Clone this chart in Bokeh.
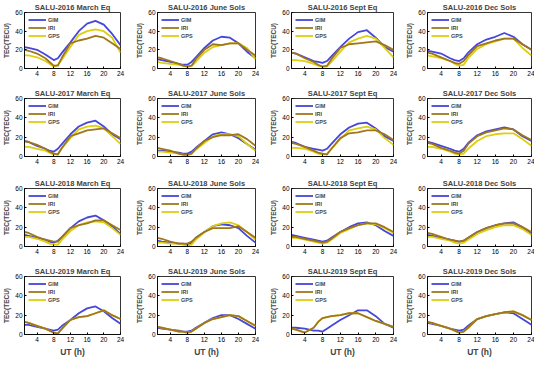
from bokeh.plotting import figure
from bokeh.layouts import gridplot
from bokeh.models import Range1d, FixedTicker, Legend, LegendItem
from bokeh.embed import file_html
from bokeh.resources import INLINE

HOURS = [1, 2, 4, 6, 7, 8, 9, 10, 12, 14, 16, 18, 20, 22, 24]
X_TICKS = [4, 8, 12, 16, 20, 24]
Y_TICKS = [0, 20, 40, 60]
SERIES = ["GIM", "IRI", "GPS"]

# 2016
gim_2016_march = [23, 22, 20, 15, 12, 9, 11, 17, 28, 40, 48, 51, 47, 37, 25]
iri_2016_march = [20, 19, 16, 11, 7, 3, 3, 12, 27, 30, 32, 35, 33, 27, 21]
gps_2016_march = [14, 14, 12, 8, 5, 2, 4, 10, 23, 36, 40, 42, 40, 33, 17]
gim_2016_june = [10, 9, 7, 5, 4, 4, 7, 12, 22, 30, 34, 33, 27, 18, 11]
iri_2016_june = [12, 11, 8, 5, 3, 2, 3, 10, 20, 26, 25, 27, 27, 20, 14]
gps_2016_june = [7, 6, 5, 4, 3, 2, 3, 7, 17, 23, 25, 27, 27, 22, 10]
gim_2016_sept = [17, 16, 12, 8, 7, 6, 8, 13, 23, 32, 39, 41, 33, 23, 18]
iri_2016_sept = [17, 16, 11, 7, 4, 2, 3, 10, 22, 26, 27, 28, 29, 25, 20]
gps_2016_sept = [9, 9, 8, 5, 3, 2, 2, 7, 18, 28, 32, 35, 32, 22, 12]
gim_2016_dec = [19, 18, 16, 11, 9, 8, 11, 17, 26, 31, 34, 38, 34, 26, 20]
iri_2016_dec = [17, 16, 12, 8, 6, 5, 8, 14, 24, 27, 30, 32, 32, 26, 20]
gps_2016_dec = [14, 13, 11, 8, 5, 3, 4, 11, 21, 26, 29, 32, 32, 22, 14]
# 2017
gim_2017_march = [16, 15, 11, 8, 6, 5, 8, 13, 23, 31, 35, 37, 31, 23, 18]
iri_2017_march = [16, 15, 12, 8, 5, 3, 2, 9, 21, 24, 27, 28, 29, 24, 19]
gps_2017_march = [10, 10, 8, 6, 4, 2, 3, 9, 19, 28, 31, 32, 29, 21, 13]
gim_2017_june = [6, 6, 5, 4, 3, 3, 5, 9, 16, 23, 25, 23, 19, 13, 7]
iri_2017_june = [9, 8, 6, 3, 2, 2, 3, 8, 16, 20, 22, 22, 23, 18, 11]
gps_2017_june = [5, 5, 4, 3, 2, 1, 3, 7, 14, 21, 23, 23, 21, 13, 6]
gim_2017_sept = [15, 14, 10, 8, 7, 6, 8, 13, 23, 30, 34, 35, 29, 21, 16]
iri_2017_sept = [14, 13, 10, 6, 4, 3, 2, 8, 19, 24, 25, 27, 27, 23, 17]
gps_2017_sept = [9, 9, 8, 5, 3, 2, 3, 8, 18, 27, 29, 31, 28, 19, 12]
gim_2017_dec = [15, 14, 11, 8, 6, 5, 8, 14, 22, 26, 28, 30, 28, 21, 16]
iri_2017_dec = [14, 13, 9, 6, 4, 3, 6, 13, 21, 25, 27, 29, 28, 22, 17]
gps_2017_dec = [10, 10, 8, 5, 3, 2, 3, 8, 16, 21, 23, 24, 24, 18, 11]
# 2018
gim_2018_march = [12, 11, 9, 7, 5, 4, 6, 10, 19, 26, 30, 32, 27, 21, 13]
iri_2018_march = [15, 14, 10, 7, 6, 5, 5, 10, 19, 22, 24, 27, 27, 22, 17]
gps_2018_march = [10, 10, 8, 5, 3, 2, 2, 7, 16, 22, 25, 26, 25, 19, 12]
gim_2018_june = [6, 5, 4, 3, 3, 2, 4, 9, 15, 21, 23, 22, 19, 11, 4]
iri_2018_june = [9, 8, 5, 3, 3, 3, 5, 9, 15, 19, 19, 19, 21, 15, 9]
gps_2018_june = [4, 4, 3, 3, 2, 1, 2, 7, 15, 21, 24, 25, 22, 15, 7]
gim_2018_sept = [12, 11, 9, 7, 6, 5, 6, 9, 15, 20, 24, 25, 22, 16, 11]
iri_2018_sept = [10, 10, 8, 6, 5, 4, 5, 8, 15, 19, 22, 24, 24, 20, 15]
gps_2018_sept = [9, 9, 7, 5, 4, 3, 4, 7, 14, 18, 22, 24, 23, 19, 14]
gim_2018_dec = [12, 11, 9, 7, 6, 5, 6, 9, 15, 19, 22, 24, 25, 20, 13]
iri_2018_dec = [14, 13, 10, 7, 6, 5, 6, 9, 15, 19, 22, 24, 24, 20, 15]
gps_2018_dec = [10, 10, 8, 6, 4, 3, 4, 7, 13, 17, 20, 22, 22, 18, 12]
# 2019
gim_2019_march = [10, 10, 8, 6, 5, 4, 5, 9, 15, 22, 27, 29, 24, 17, 11]
iri_2019_march = [13, 12, 9, 6, 4, 2, 1, 6, 15, 18, 19, 22, 25, 20, 16]
gps_2019_march = [13, 12, 9, 6, 4, 2, 1, 6, 15, 18, 19, 22, 25, 20, 16]
gim_2019_june = [7, 6, 5, 4, 3, 3, 4, 7, 12, 17, 20, 20, 16, 11, 6]
iri_2019_june = [8, 7, 5, 3, 3, 2, 3, 6, 12, 16, 18, 20, 19, 14, 9]
gps_2019_june = [8, 7, 5, 3, 3, 2, 3, 6, 12, 16, 18, 20, 19, 14, 9]
gim_2019_sept = [7, 7, 6, 4, 4, 3, 6, 9, 15, 20, 25, 25, 19, 11, 7]
iri_2019_sept = [6, 5, 2, 7, 13, 17, 18, 19, 20, 22, 22, 18, 14, 11, 8]
gps_2019_sept = [6, 5, 2, 7, 13, 17, 18, 19, 20, 22, 22, 18, 14, 11, 8]
gim_2019_dec = [12, 11, 9, 6, 5, 4, 5, 9, 16, 19, 21, 23, 22, 16, 10]
iri_2019_dec = [13, 12, 9, 6, 4, 2, 3, 7, 16, 19, 21, 23, 24, 20, 15]
gps_2019_dec = [13, 12, 9, 6, 4, 2, 3, 7, 16, 19, 21, 23, 24, 20, 15]

PANELS = [
    ("SALU-2016 March Eq", gim_2016_march, iri_2016_march, gps_2016_march),
    ("SALU-2016 June Sols", gim_2016_june, iri_2016_june, gps_2016_june),
    ("SALU-2016 Sept Eq", gim_2016_sept, iri_2016_sept, gps_2016_sept),
    ("SALU-2016 Dec Sols", gim_2016_dec, iri_2016_dec, gps_2016_dec),
    ("SALU-2017 March Eq", gim_2017_march, iri_2017_march, gps_2017_march),
    ("SALU-2017 June Sols", gim_2017_june, iri_2017_june, gps_2017_june),
    ("SALU-2017 Sept Eq", gim_2017_sept, iri_2017_sept, gps_2017_sept),
    ("SALU-2017 Dec Sols", gim_2017_dec, iri_2017_dec, gps_2017_dec),
    ("SALU-2018 March Eq", gim_2018_march, iri_2018_march, gps_2018_march),
    ("SALU-2018 June Sols", gim_2018_june, iri_2018_june, gps_2018_june),
    ("SALU-2018 Sept Eq", gim_2018_sept, iri_2018_sept, gps_2018_sept),
    ("SALU-2018 Dec Sols", gim_2018_dec, iri_2018_dec, gps_2018_dec),
    ("SALU-2019 March Eq", gim_2019_march, iri_2019_march, gps_2019_march),
    ("SALU-2019 June Sols", gim_2019_june, iri_2019_june, gps_2019_june),
    ("SALU-2019 Sept Eq", gim_2019_sept, iri_2019_sept, gps_2019_sept),
    ("SALU-2019 Dec Sols", gim_2019_dec, iri_2019_dec, gps_2019_dec),
]

COLORS = {"GIM": "#4646dc", "IRI": "#a0761c", "GPS": "#dccf10"}
DRAW_ORDER = ["GIM", "GPS", "IRI"]
FONT = "Liberation Sans"

COL_W = [133, 134, 134, 133]
COL_L = [20, 18, 22, 26]
COL_R = [13, 12, 8, 3]
ROW_H = [86, 90, 88, 95]
ROW_B = [18, 20, 18, 25]

rows = []
for r in range(4):
    row = []
    for c in range(4):
        title, gim, iri, gps = PANELS[r * 4 + c]
        vals = {"GIM": gim, "IRI": iri, "GPS": gps}
        p = figure(width=COL_W[c], height=ROW_H[r], output_backend="svg",
                   toolbar_location=None, title=title,
                   x_range=Range1d(1, 24), y_range=Range1d(0, 60),
                   min_border_left=COL_L[c], min_border_right=COL_R[c],
                   min_border_top=12, min_border_bottom=ROW_B[r])
        p.title.text_font = FONT
        p.title.text_font_size = "7.5px"
        p.title.text_font_style = "bold"
        p.title.align = "center"
        p.title.standoff = 1
        p.title.offset = 0
        renderers = {}
        for name in DRAW_ORDER:
            renderers[name] = p.line(HOURS, vals[name], line_color=COLORS[name],
                                     line_width=1.8, line_join="round")
        legend = Legend(items=[LegendItem(label=n, renderers=[renderers[n]]) for n in SERIES],
                        location="top_left")
        legend.label_text_font = FONT
        legend.label_text_font_size = "5.5px"
        legend.label_text_font_style = "bold"
        legend.glyph_width = 18
        legend.glyph_height = 7
        legend.label_height = 7
        legend.spacing = 1
        legend.padding = 2
        legend.margin = 4
        legend.label_standoff = 2
        legend.border_line_color = None
        legend.background_fill_alpha = 0
        p.add_layout(legend)
        p.xgrid.visible = False
        p.ygrid.visible = False
        p.outline_line_color = "black"
        p.outline_line_width = 0.8
        for ax in (p.xaxis[0], p.yaxis[0]):
            ax.major_tick_in = 2
            ax.major_tick_out = 0
            ax.minor_tick_in = 0
            ax.minor_tick_out = 0
            ax.major_label_text_font = FONT
            ax.major_label_text_font_size = "6.5px"
            ax.major_label_standoff = 2
            ax.axis_line_color = "black"
            ax.axis_line_width = 0.8
            ax.major_label_text_color = "black"
        p.xaxis[0].ticker = FixedTicker(ticks=X_TICKS)
        p.yaxis[0].ticker = FixedTicker(ticks=Y_TICKS)
        p.yaxis[0].axis_label = "TEC(TECU)"
        p.yaxis[0].axis_label_text_font = FONT
        p.yaxis[0].axis_label_text_font_size = "6.5px"
        p.yaxis[0].axis_label_text_font_style = "bold"
        p.yaxis[0].axis_label_standoff = 2
        if r == 3:
            p.xaxis[0].axis_label = "UT (h)"
            p.xaxis[0].axis_label_text_font = FONT
            p.xaxis[0].axis_label_text_font_size = "8.5px"
            p.xaxis[0].axis_label_text_font_style = "bold"
            p.xaxis[0].axis_label_standoff = 2
        row.append(p)
    rows.append(row)

grid = gridplot(rows, toolbar_location=None)
open("out.html", "w").write(file_html(grid, INLINE))
